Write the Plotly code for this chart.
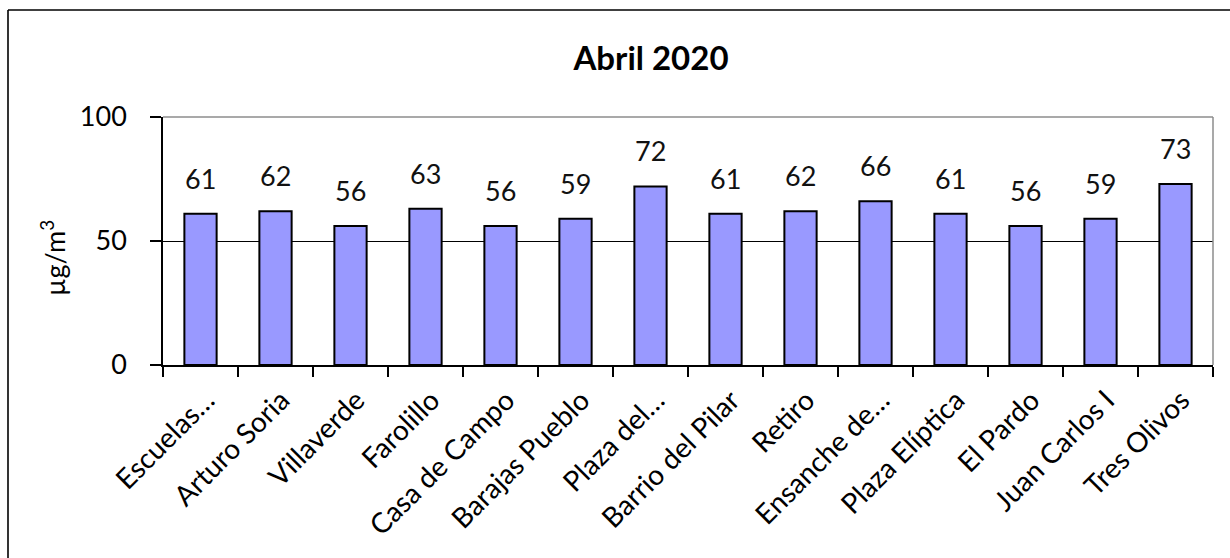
import plotly.graph_objects as go

categories = ["Escuelas…", "Arturo Soria", "Villaverde", "Farolillo", "Casa de Campo",
              "Barajas Pueblo", "Plaza del…", "Barrio del Pilar", "Retiro", "Ensanche de…",
              "Plaza Elíptica", "El Pardo", "Juan Carlos I", "Tres Olivos"]
values = [61, 62, 56, 63, 56, 59, 72, 61, 62, 66, 61, 56, 59, 73]
y_ticks = [0, 50, 100]
title_text = "Abril 2020"
y_title = "µg/m<sup>3</sup>"

W, H = 1230, 558
L, R, T, B = 163, 1213, 117, 365
FONT = "Lato"

fig = go.Figure()
fig.add_trace(go.Bar(
    x=categories, y=values,
    marker=dict(color="#9999FF", line=dict(color="black", width=2)),
    width=0.43,
    hoverinfo="skip",
))

for c, v in zip(categories, values):
    fig.add_annotation(x=c, y=v, text=str(v), showarrow=False, xref="x", yref="y",
                       yanchor="bottom", yshift=17,
                       font=dict(family=FONT, size=27, color="#111111"))

pw, ph = R - L, B - T
def px(x):
    return (x - L) / pw
def py(y):
    return (B - y) / ph

# outer chart border (left and top visible)
fig.add_shape(type="line", xref="paper", yref="paper", x0=px(8), x1=px(8), y0=py(600), y1=py(10),
              line=dict(color="black", width=1.6))
fig.add_shape(type="line", xref="paper", yref="paper", x0=px(8), x1=px(1300), y0=py(10), y1=py(10),
              line=dict(color="black", width=1.6))
# plot area gray top/right border
fig.add_shape(type="line", xref="paper", yref="paper", x0=0, x1=1, y0=1, y1=1,
              line=dict(color="#8c8c8c", width=1.5))
fig.add_shape(type="line", xref="paper", yref="paper", x0=1, x1=1, y0=0, y1=1,
              line=dict(color="#8c8c8c", width=1.5))

fig.add_annotation(text=y_title, xref="paper", yref="paper", x=px(53), y=py(258),
                   textangle=-90, showarrow=False, xanchor="center", yanchor="middle",
                   font=dict(family=FONT, size=27, color="black"))

fig.update_layout(
    width=W, height=H,
    margin=dict(l=L, r=W - R, t=T, b=H - B, autoexpand=False),
    paper_bgcolor="white", plot_bgcolor="white",
    showlegend=False,
    bargap=0.57,
    title=dict(text="<b>" + title_text + "</b>", x=651 / W, xanchor="center",
               y=1 - 58 / H, yanchor="middle", yref="container",
               font=dict(family=FONT, size=33, color="black")),
    font=dict(family=FONT, color="black"),
)
fig.update_xaxes(
    showline=True, linecolor="black", linewidth=1.5,
    ticks="outside", tickson="boundaries", ticklen=10, tickcolor="black", tickwidth=1.5,
    tickangle=-45, tickfont=dict(family=FONT, size=28, color="black"),
    ticklabelstandoff=6, ticklabelshift=6,
    showgrid=False, automargin=False,
)
fig.update_yaxes(
    range=[0, 100], tickvals=y_ticks,
    showline=True, linecolor="black", linewidth=1.5,
    ticks="outside", ticklen=11, tickcolor="black", tickwidth=1.5,
    ticklabelstandoff=18,
    tickfont=dict(family=FONT, size=27, color="black"),
    showgrid=True, gridcolor="black", gridwidth=1,
    zeroline=False, automargin=False,
)

fig.write_html("out.html", config={"displayModeBar": False},
               post_script="document.body.style.margin='0';document.body.style.overflow='hidden';")
